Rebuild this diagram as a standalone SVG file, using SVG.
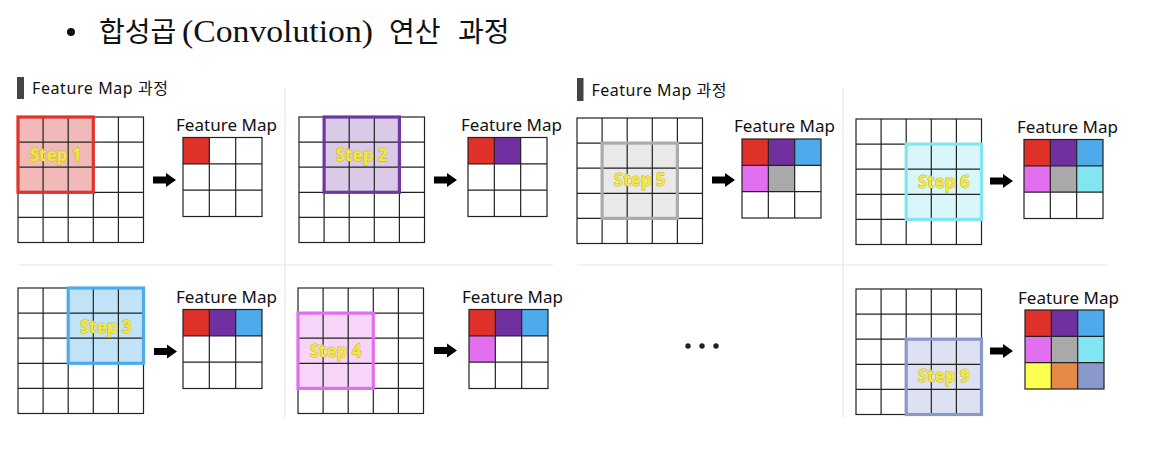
<svg xmlns="http://www.w3.org/2000/svg" xmlns:xlink="http://www.w3.org/1999/xlink" width="1176" height="466" viewBox="0 0 1176 466">
<style>
.title-ko{font-family:"Noto Sans CJK KR","Noto Sans",sans-serif;font-size:28px;fill:#111}
.title-la{font-family:"Liberation Serif","Noto Sans CJK KR",serif;font-size:31px;fill:#111}
.hdr{font-family:"Noto Sans","Noto Sans CJK KR",sans-serif;font-size:16px;fill:#111}
.fmlabel{font-family:"Noto Sans","Noto Sans CJK KR",sans-serif;font-size:17px;fill:#111}
.step{font-family:"Noto Sans","Liberation Sans",sans-serif;font-size:17px;font-weight:bold;fill:#f3e83c;stroke:#bfae28;stroke-width:0.8;paint-order:stroke;text-anchor:middle}
.gl{fill:none;stroke:#222;stroke-width:1.2}
.sep{stroke:#e6e6e6;stroke-width:1.2}
.red{fill:#e0302a}.pur{fill:#7030a0}.blu{fill:#4eaaea}.pnk{fill:#e26ff0}.gry{fill:#a9a9a9}.cya{fill:#82e6f2}.yel{fill:#ffff52}.org{fill:#e48a48}.per{fill:#8a98cc}
</style>
<defs>
<g id="g5">
<rect x="0" y="0" width="125.5" height="125.5" class="gl"/>
<path class="gl" d="M25.1 0V125.5M50.2 0V125.5M75.3 0V125.5M100.4 0V125.5M0 25.1H125.5M0 50.2H125.5M0 75.3H125.5M0 100.4H125.5"/>
</g>
<g id="fm3">
<rect x="0" y="0" width="79" height="79" class="gl"/>
<path class="gl" d="M26.33 0V79M52.67 0V79M0 26.33H79M0 52.67H79"/>
</g>
<path id="arrow" d="M0 -3.5H13V-7L23 0L13 7V3.5H0Z" fill="#000"/>
</defs>
<rect width="1176" height="466" fill="#fff"/>

<g id="title">
<circle cx="71" cy="32" r="4" fill="#111"/>
<text class="title-ko" x="99" y="42">합성곱</text>
<text class="title-la" x="182" y="42" textLength="191" lengthAdjust="spacingAndGlyphs">(Convolution)</text>
<text class="title-ko" x="389" y="42">연산</text>
<text class="title-ko" x="458" y="42">과정</text>
</g>

<g id="header-left">
<rect x="17" y="77" width="7" height="22" fill="#444"/>
<text class="hdr" x="32" y="94" textLength="136">Feature Map 과정</text>
</g>
<g id="header-right">
<rect x="577" y="78" width="6.5" height="23" fill="#444"/>
<text class="hdr" x="591.5" y="96" textLength="135">Feature Map 과정</text>
</g>

<g id="separators">
<line class="sep" x1="285" y1="88" x2="285" y2="418"/>
<line class="sep" x1="843" y1="88" x2="843" y2="418"/>
<line class="sep" x1="18" y1="265" x2="553" y2="265"/>
<line class="sep" x1="577" y1="265" x2="1108" y2="265"/>
</g>

<g id="step1">
<rect x="18" y="117" width="75.3" height="75.3" fill="#f2b9b9"/>
<use xlink:href="#g5" href="#g5" x="18" y="117"/>
<rect x="18" y="117" width="75.3" height="75.3" fill="none" stroke="#e0332b" stroke-width="3.2"/>
<text class="step" x="55.6" y="161">Step 1</text>
<text class="fmlabel" x="176" y="131" textLength="101">Feature Map</text>
<rect class="red" x="183" y="137.5" width="26.33" height="26.33"/>
<use xlink:href="#fm3" href="#fm3" x="183" y="137.5"/>
</g>

<g id="step2">
<rect x="324.1" y="117" width="75.3" height="75.3" fill="#dac9e7"/>
<use xlink:href="#g5" href="#g5" x="299" y="117"/>
<rect x="324.1" y="117" width="75.3" height="75.3" fill="none" stroke="#7036a2" stroke-width="3.2"/>
<text class="step" x="361.7" y="161">Step 2</text>
<text class="fmlabel" x="461" y="131" textLength="101">Feature Map</text>
<rect class="red" x="468" y="137.5" width="26.33" height="26.33"/>
<rect class="pur" x="494.33" y="137.5" width="26.33" height="26.33"/>
<use xlink:href="#fm3" href="#fm3" x="468" y="137.5"/>
</g>

<g id="step3">
<rect x="68.2" y="288" width="75.3" height="75.3" fill="#c0e3f7"/>
<use xlink:href="#g5" href="#g5" x="18" y="288"/>
<rect x="68.2" y="288" width="75.3" height="75.3" fill="none" stroke="#4eaaea" stroke-width="3.2"/>
<text class="step" x="105.8" y="332.5">Step 3</text>
<text class="fmlabel" x="176" y="303" textLength="101">Feature Map</text>
<rect class="red" x="183" y="309.5" width="26.33" height="26.33"/>
<rect class="pur" x="209.33" y="309.5" width="26.33" height="26.33"/>
<rect class="blu" x="235.67" y="309.5" width="26.33" height="26.33"/>
<use xlink:href="#fm3" href="#fm3" x="183" y="309.5"/>
</g>

<g id="step4">
<rect x="298" y="313.1" width="75.3" height="75.3" fill="#f7d5f8"/>
<use xlink:href="#g5" href="#g5" x="298" y="288"/>
<rect x="298" y="313.1" width="75.3" height="75.3" fill="none" stroke="#e06ff0" stroke-width="3.2"/>
<text class="step" x="335.6" y="357">Step 4</text>
<text class="fmlabel" x="462" y="303" textLength="101">Feature Map</text>
<rect class="red" x="469" y="309.5" width="26.33" height="26.33"/>
<rect class="pur" x="495.33" y="309.5" width="26.33" height="26.33"/>
<rect class="blu" x="521.67" y="309.5" width="26.33" height="26.33"/>
<rect class="pnk" x="469" y="335.83" width="26.33" height="26.33"/>
<use xlink:href="#fm3" href="#fm3" x="469" y="309.5"/>
</g>

<g id="step5">
<rect x="602.1" y="143.1" width="75.3" height="75.3" fill="#e9e9e9"/>
<use xlink:href="#g5" href="#g5" x="577" y="118"/>
<rect x="602.1" y="143.1" width="75.3" height="75.3" fill="none" stroke="#ababab" stroke-width="3.2"/>
<text class="step" x="639.7" y="186">Step 5</text>
<text class="fmlabel" x="734" y="132" textLength="101">Feature Map</text>
<rect class="red" x="742" y="139" width="26.33" height="26.33"/>
<rect class="pur" x="768.33" y="139" width="26.33" height="26.33"/>
<rect class="blu" x="794.67" y="139" width="26.33" height="26.33"/>
<rect class="pnk" x="742" y="165.33" width="26.33" height="26.33"/>
<rect class="gry" x="768.33" y="165.33" width="26.33" height="26.33"/>
<use xlink:href="#fm3" href="#fm3" x="742" y="139"/>
</g>

<g id="step6">
<rect x="906.2" y="144.1" width="75.3" height="75.3" fill="#d9f7fb"/>
<use xlink:href="#g5" href="#g5" x="856" y="119"/>
<rect x="906.2" y="144.1" width="75.3" height="75.3" fill="none" stroke="#82e6f2" stroke-width="3.2"/>
<text class="step" x="943.8" y="187.5">Step 6</text>
<text class="fmlabel" x="1017" y="132.5" textLength="101">Feature Map</text>
<rect class="red" x="1024" y="139.5" width="26.33" height="26.33"/>
<rect class="pur" x="1050.33" y="139.5" width="26.33" height="26.33"/>
<rect class="blu" x="1076.67" y="139.5" width="26.33" height="26.33"/>
<rect class="pnk" x="1024" y="165.83" width="26.33" height="26.33"/>
<rect class="gry" x="1050.33" y="165.83" width="26.33" height="26.33"/>
<rect class="cya" x="1076.67" y="165.83" width="26.33" height="26.33"/>
<use xlink:href="#fm3" href="#fm3" x="1024" y="139.5"/>
</g>

<g id="ellipsis">
<circle cx="688" cy="346" r="2.7" fill="#222"/>
<circle cx="702" cy="346" r="2.7" fill="#222"/>
<circle cx="716" cy="346" r="2.7" fill="#222"/>
</g>

<g id="step9">
<rect x="906.2" y="339.2" width="75.3" height="75.3" fill="#dee1f1"/>
<use xlink:href="#g5" href="#g5" x="856" y="289"/>
<rect x="906.2" y="339.2" width="75.3" height="75.3" fill="none" stroke="#8a98cc" stroke-width="3.2"/>
<text class="step" x="943.8" y="382">Step 9</text>
<text class="fmlabel" x="1018" y="303.5" textLength="101">Feature Map</text>
<rect class="red" x="1025" y="310" width="26.33" height="26.33"/>
<rect class="pur" x="1051.33" y="310" width="26.33" height="26.33"/>
<rect class="blu" x="1077.67" y="310" width="26.33" height="26.33"/>
<rect class="pnk" x="1025" y="336.33" width="26.33" height="26.33"/>
<rect class="gry" x="1051.33" y="336.33" width="26.33" height="26.33"/>
<rect class="cya" x="1077.67" y="336.33" width="26.33" height="26.33"/>
<rect class="yel" x="1025" y="362.67" width="26.33" height="26.33"/>
<rect class="org" x="1051.33" y="362.67" width="26.33" height="26.33"/>
<rect class="per" x="1077.67" y="362.67" width="26.33" height="26.33"/>
<use xlink:href="#fm3" href="#fm3" x="1025" y="310"/>
</g>

<g id="connectors">
<use xlink:href="#arrow" href="#arrow" x="153" y="180"/>
<use xlink:href="#arrow" href="#arrow" x="434" y="180"/>
<use xlink:href="#arrow" href="#arrow" x="154" y="351.5"/>
<use xlink:href="#arrow" href="#arrow" x="434" y="350.5"/>
<use xlink:href="#arrow" href="#arrow" x="712" y="180"/>
<use xlink:href="#arrow" href="#arrow" x="990" y="181"/>
<use xlink:href="#arrow" href="#arrow" x="990" y="351"/>
</g>
</svg>
